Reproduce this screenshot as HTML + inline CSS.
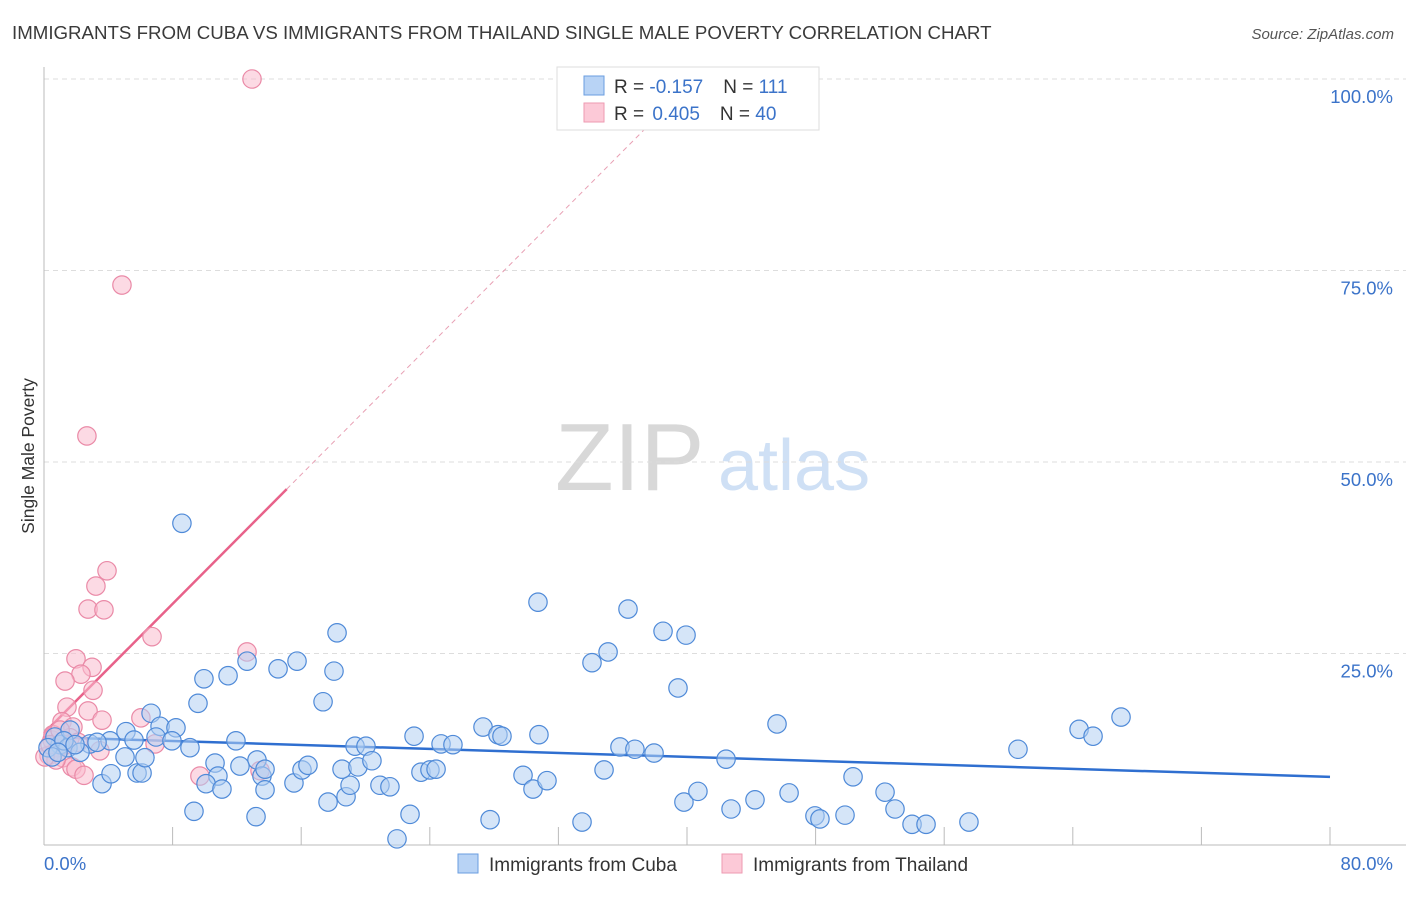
<!DOCTYPE html>
<html><head><meta charset="utf-8"><style>
body{margin:0;background:#fff;font-family:"Liberation Sans",sans-serif;}
svg text{font-family:"Liberation Sans",sans-serif;}
</style></head><body>
<svg id="chart" width="1406" height="892" xmlns="http://www.w3.org/2000/svg">
<text x="12" y="39" font-size="18.7" fill="#3a3a3a">IMMIGRANTS FROM CUBA VS IMMIGRANTS FROM THAILAND SINGLE MALE POVERTY CORRELATION CHART</text>
<text x="1394" y="39" font-size="15" fill="#555" font-style="italic" text-anchor="end">Source: ZipAtlas.com</text>
<g>
<text x="555" y="490" font-size="96" fill="#d8d8d8" font-family="Liberation Serif, serif">ZIP</text>
<text x="718" y="490" font-size="72" fill="#cfe0f5">atlas</text>
</g>
<g id="grid"></g>
<g id="axes"></g>
<g id="trend"></g>
<g id="pts"></g>
<text transform="translate(34,456) rotate(-90)" font-size="17.5" fill="#333" text-anchor="middle">Single Male Poverty</text>
<g>
<rect x="557" y="67" width="262" height="63" fill="#fff" stroke="#ddd"/>
<rect x="584" y="76" width="20" height="19" fill="#b8d3f5" stroke="#6a9ee0"/>
<rect x="584" y="103" width="20" height="19" fill="#fcc9d7" stroke="#ee9ab2"/>
<text x="614" y="93" font-size="19" fill="#333">R = <tspan fill="#3b73c9">-0.157</tspan><tspan dx="20">N = </tspan><tspan fill="#3b73c9">111</tspan></text>
<text x="614" y="120" font-size="19" fill="#333">R = <tspan fill="#3b73c9" dx="3">0.405</tspan><tspan dx="20">N = </tspan><tspan fill="#3b73c9">40</tspan></text>
</g>
<g>
<rect x="458" y="854" width="20" height="19" fill="#b8d3f5" stroke="#6a9ee0"/>
<text x="489" y="871" font-size="19" fill="#333">Immigrants from Cuba</text>
<rect x="722" y="854" width="20" height="19" fill="#fcc9d7" stroke="#ee9ab2"/>
<text x="753" y="871" font-size="19" fill="#333">Immigrants from Thailand</text>
</g>
</svg>
<script>
const yTicks=[100,75,50,25];
const yTickLabels=["100.0%","75.0%","50.0%","25.0%"];
const xTickCount=10;
const xMax=80;
const xLabels=["0.0%","80.0%"];
const cubaX=[8.58,30.73,36.33,38.51,39.94,18.23,34.09,35.09,15.74,12.63,14.56,18.04,39.44,9.95,11.45,9.58,17.36,6.66,7.22,8.21,5.10,5.60,6.97,7.96,9.08,4.11,2.86,11.94,13.25,13.56,13.75,10.64,10.82,12.19,10.08,11.07,13.75,15.55,16.05,16.42,17.67,18.79,19.04,18.54,19.53,19.35,20.03,20.40,20.90,21.52,23.02,22.77,21.96,23.45,24.01,24.39,24.70,25.44,27.31,28.24,28.49,30.79,29.80,30.42,31.29,27.75,33.47,34.84,35.83,36.76,37.95,39.81,40.68,42.43,42.74,44.23,45.60,46.35,47.96,48.27,49.83,50.33,52.32,52.94,54.00,54.87,57.54,60.59,64.39,65.26,67.00,9.33,13.19,3.61,4.17,5.79,6.10,5.04,6.28,1.0,0.68,1.49,1.62,2.24,0.25,0.5,1.24,1.93,3.30,0.87];
const cubaY=[42.0,31.7,30.8,27.9,27.4,27.7,23.8,25.2,24.0,24.0,23.0,22.7,20.5,21.7,22.1,18.5,18.7,17.2,15.5,15.3,14.8,13.7,14.1,13.6,12.7,13.6,13.2,13.6,11.1,9.0,9.9,10.7,9.0,10.3,8.0,7.3,7.2,8.1,9.8,10.4,5.6,6.3,7.8,9.9,10.2,12.9,12.9,11.0,7.8,7.6,14.2,4.0,0.8,9.5,9.8,9.9,13.2,13.1,15.4,14.4,14.2,14.4,9.1,7.3,8.4,3.3,3.0,9.8,12.8,12.5,12.0,5.6,7.0,11.2,4.7,5.9,15.8,6.8,3.8,3.4,3.9,8.9,6.9,4.7,2.7,2.7,3.0,12.5,15.1,14.2,16.7,4.4,3.7,8.0,9.3,9.4,9.4,11.5,11.4,13.1,14.1,12.7,15.0,12.1,12.7,11.5,13.6,13.1,13.4,12.1];
const thaiX=[12.94,4.85,2.67,3.92,3.23,2.74,3.73,6.72,12.63,1.99,2.99,2.30,1.31,3.05,1.43,2.74,3.61,6.03,1.12,1.80,6.91,1.62,0.5,0.87,0.31,1.18,1.74,1.99,2.49,9.70,13.44,0.56,1.0,1.37,2.12,0.75,0.06,1.12,0.37,3.48];
const thaiY=[100.0,73.1,53.4,35.8,33.8,30.8,30.7,27.2,25.2,24.3,23.2,22.3,21.4,20.2,18.0,17.5,16.3,16.6,16.1,15.4,13.2,14.0,13.7,12.7,11.7,11.4,10.2,9.9,9.1,9.0,9.7,14.4,15.0,13.1,13.4,11.1,11.5,13.2,13.1,12.3];
const cubaTrend=[14.1,-0.065];
const thaiTrend=[14.6,2.11];
const thaiSolidEnd=15.1;
const L=44,R=1330,T=79,B=845;
const sx=v=>L+(R-L)*v/xMax, sy=v=>B-(B-T)*v/100;
const NS="http://www.w3.org/2000/svg";
function mk(p,tag,attrs){const e=document.createElementNS(NS,tag);for(const k in attrs)e.setAttribute(k,attrs[k]);p.appendChild(e);return e;}
const grid=document.getElementById('grid'),axes=document.getElementById('axes'),trend=document.getElementById('trend'),pts=document.getElementById('pts');
yTicks.forEach((t,i)=>{
 const l=mk(grid,'line',{x1:L,x2:1420,y1:sy(t),y2:sy(t),stroke:'#ddd','stroke-dasharray':'5,4'});
 
 
 const tx=mk(axes,'text',{x:1393,y:sy(t)+24,'font-size':18.5,fill:'#3b73c9','text-anchor':'end'});
 tx.textContent=yTickLabels[i];
 
 
});
const al=mk(axes,'line',{x1:L,x2:L,y1:67,y2:B,stroke:'#bbb'});


const bl=mk(axes,'line',{x1:L,x2:1420,y1:B,y2:B,stroke:'#bbb'});


for(let i=1;i<=xTickCount;i++){
 const x=sx(xMax*i/xTickCount);
 const tk=mk(axes,'line',{x1:x,x2:x,y1:B-18,y2:B,stroke:'#bbb'});
 
 
}
[[0,'start',44],[xMax,'end',1393]].forEach((a,i)=>{
 const tx=mk(axes,'text',{x:a[2],y:870,'font-size':18.5,fill:'#3b73c9','text-anchor':a[1]});
 tx.textContent=xLabels[i];
 
 
});
function dot(x,y,fill,stroke,name){
 const c=mk(pts,'circle',{cx:sx(x),cy:sy(y),r:9.2,fill:fill,'fill-opacity':0.55,stroke:stroke,'stroke-width':1.2});
 
 
}
thaiX.forEach((x,i)=>dot(x,thaiY[i],'#f9bccd','#ea8aa7','thailand-point'));
cubaX.forEach((x,i)=>dot(x,cubaY[i],'#b3cff3','#4f8ad8','cuba-point'));
const cl=mk(trend,'line',{x1:sx(0),y1:sy(cubaTrend[0]),x2:sx(xMax),y2:sy(cubaTrend[0]+cubaTrend[1]*xMax),stroke:'#2f6fd0','stroke-width':2.5});


const tl=mk(trend,'line',{x1:sx(0),y1:sy(thaiTrend[0]),x2:sx(thaiSolidEnd),y2:sy(thaiTrend[0]+thaiTrend[1]*thaiSolidEnd),stroke:'#e8628a','stroke-width':2.5});


const xe=(100-thaiTrend[0])/thaiTrend[1];
const td=mk(trend,'line',{x1:sx(thaiSolidEnd),y1:sy(thaiTrend[0]+thaiTrend[1]*thaiSolidEnd),x2:sx(xe),y2:sy(100),stroke:'#e8a0b4','stroke-width':1,'stroke-dasharray':'5,4'});


</script>
</body></html>
